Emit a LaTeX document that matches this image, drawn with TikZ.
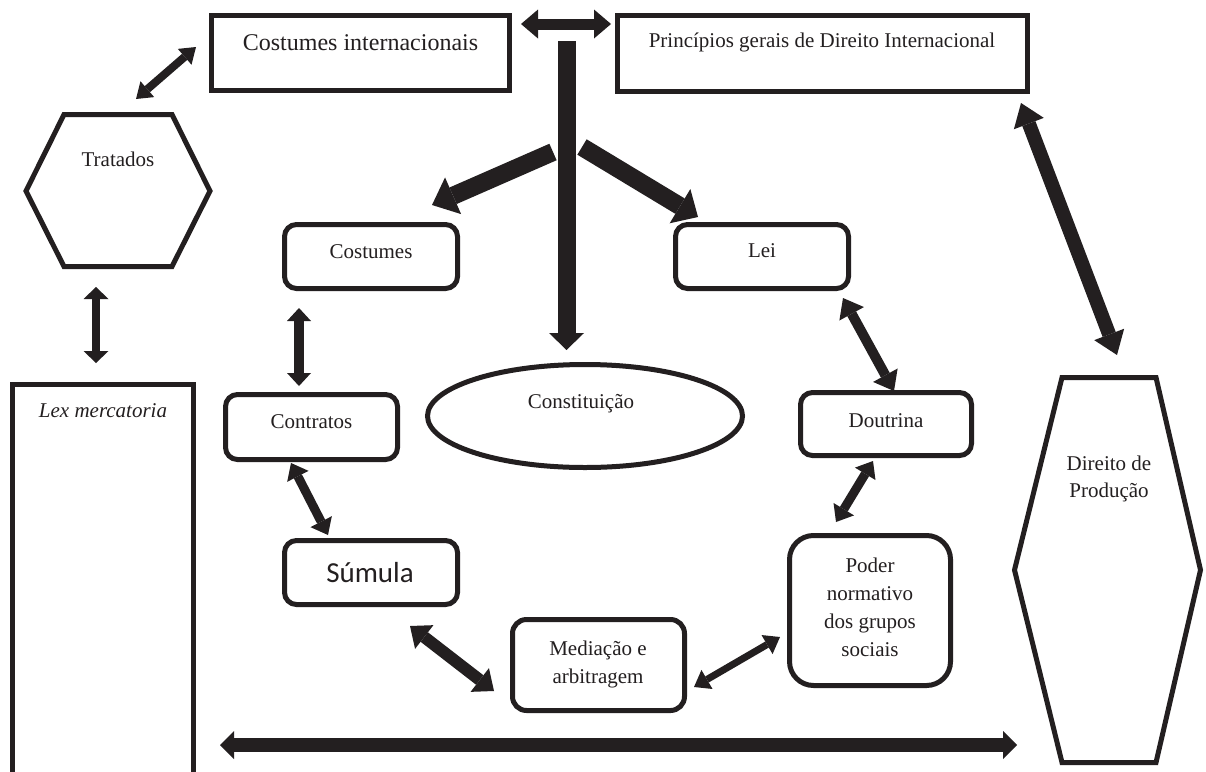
\documentclass[tikz,border=0pt]{standalone}
\usepackage{fontspec}
\setmainfont{Liberation Serif}
\newfontfamily\calfont{Carlito}
\usetikzlibrary{arrows.meta,calc,shapes.geometric}
\definecolor{ink}{RGB}{35,31,32}
\begin{document}
\begin{tikzpicture}[x=1pt,y=-1pt,
  every node/.style={inner sep=0pt, outer sep=0pt},
  sq/.style={draw=ink, line width=5pt, rectangle},
  rbox/.style={draw=ink, line width=5pt, rectangle, rounded corners=#1},
  hexline/.style={draw=ink, line width=5pt, line join=miter},
  lbl/.style={anchor=base, text=ink, font=\fontsize{21}{25}\selectfont},
  arr/.style={draw=ink, fill=ink},
  dbl/.style n args={3}{line width=#1pt, {Triangle[width=#2pt,length=#3pt,line width=0pt]}-{Triangle[width=#2pt,length=#3pt,line width=0pt]}},
  sgl/.style n args={3}{line width=#1pt, -{Triangle[width=#2pt,length=#3pt,line width=0pt]}}
]
\useasboundingbox (0,0) rectangle (1206,771);
\fill[white] (0,0) rectangle (1206,771);
\clip (0,0) rectangle (1206,771);

% top rectangles
\node[sq, minimum width=298pt, minimum height=75pt] (ci) at (360.5,53) {};
\node[lbl, font=\fontsize{24}{28}\selectfont] (cit) at (360.5,50) {Costumes internacionais};
\node[sq, minimum width=410pt, minimum height=76pt] (pg) at (822.5,53.5) {};
\node[lbl] (pgt) at (822,47) {Princípios gerais de Direito Internacional};

% Tratados hexagon
\coordinate (trat) at (118,191);
\draw[hexline] ($(trat)+(-92,0)$) -- ($(trat)+(-54,-76.5)$) -- ($(trat)+(54,-76.5)$)
  -- ($(trat)+(92,0)$) -- ($(trat)+(54,75.5)$) -- ($(trat)+(-54,75.5)$) -- cycle;
\node[lbl] (tratt) at (118,166) {Tratados};

% Lex mercatoria
\node[sq, minimum width=181pt, minimum height=420pt] (lex) at (103,594.5) {};
\node[lbl, font=\fontsize{21}{25}\selectfont\itshape] (lext) at (103,417) {Lex mercatoria};

% Direito de Producao hexagon
\coordinate (dir) at (1107.5,570);
\draw[hexline] ($(dir)+(-93,0)$) -- ($(dir)+(-45.5,-192.5)$) -- ($(dir)+(48.5,-192.5)$)
  -- ($(dir)+(93,0)$) -- ($(dir)+(48.5,192.5)$) -- ($(dir)+(-45.5,192.5)$) -- cycle;
\node[lbl] (dirt1) at (1109,470) {Direito de};
\node[lbl] (dirt2) at (1109,497) {Produção};

% rounded boxes
\node[rbox=12pt, minimum width=173pt, minimum height=64pt] (cos) at (371,256.5) {};
\node[lbl] (cost) at (371,258) {Costumes};
\node[rbox=12pt, minimum width=173pt, minimum height=64pt] (lei) at (762,256.5) {};
\node[lbl] (leit) at (762,257) {Lei};
\node[rbox=12pt, minimum width=172pt, minimum height=65pt] (ctr) at (311.5,427) {};
\node[lbl] (ctrt) at (311.5,428) {Contratos};
\node[rbox=12pt, minimum width=171pt, minimum height=63pt] (dou) at (886,424) {};
\node[lbl] (dout) at (886,427) {Doutrina};
\node[rbox=12pt, minimum width=173pt, minimum height=64pt] (sum) at (371,572.5) {};
\node[anchor=base, text=ink, font=\fontsize{29}{34}\calfont] (sumt) at (370,582) {Súmula};
\node[rbox=14pt, minimum width=172pt, minimum height=91pt] (med) at (598.5,665) {};
\node[lbl] (medt1) at (598,655) {Mediação e};
\node[lbl] (medt2) at (598,683) {arbitragem};
\node[rbox=24pt, minimum width=161pt, minimum height=150pt] (pod) at (870,610.5) {};
\node[lbl] (podt1) at (870,572) {Poder};
\node[lbl] (podt2) at (870,600) {normativo};
\node[lbl] (podt3) at (870,628) {dos grupos};
\node[lbl] (podt4) at (870,656) {sociais};

% Constituicao
\node[draw=ink, line width=5pt, ellipse, minimum width=315pt, minimum height=103pt] (con) at (585,416) {};
\node[lbl] (cont) at (581,408) {Constituição};

% double arrows
\draw[arr, dbl={11}{29}{17}] ([shift={(11.5,8.5)}]ci.north east) -- ([shift={(-6.5,8.5)}]pg.north west);
\draw[arr, dbl={8}{21}{15}] ($(trat)+(18,-92)$) -- ([shift={(-15.5,-6)}]ci.west);
\draw[arr, dbl={8}{25}{12}] ($(trat)+(-22,96)$) -- ([shift={(-7,-21.5)}]lex.north);
\draw[arr, dbl={10}{24}{13}] ([shift={(14.5,19.5)}]cos.south west) -- ([shift={(73.5,-8.5)}]ctr.north west);
\draw[arr, dbl={9}{24}{15}] ([shift={(65.5,3.5)}]ctr.south west) -- ([shift={(43.5,-5.5)}]sum.north west);
\draw[arr, dbl={12}{30}{18}] ([shift={(125.5,21.5)}]sum.south west) -- ([shift={(-18.5,26)}]med.west);
\draw[arr, dbl={7}{22}{15}] ([shift={(9.5,22)}]med.east) -- ([shift={(-9.5,26.5)}]pod.west);
\draw[arr, dbl={9}{24}{15}] ([shift={(72.5,5.5)}]dou.south west) -- ([shift={(46.5,-13.5)}]pod.north west);
\draw[arr, dbl={10}{28}{18}] ([shift={(167.5,9.5)}]lei.south west) -- ([shift={(93.5,-1.5)}]dou.north west);
\draw[arr, dbl={14}{32}{22}] ([shift={(-6.5,11.5)}]pg.south east) -- ($(dir)+(9.5,-215)$);
\draw[arr, dbl={14}{28}{14}] ([shift={(26.5,150.5)}]lex.east) -- ($(dir)+(-90.5,175)$);

% single thick arrows
\coordinate (vtop) at (566.5,41);
\coordinate (ltail) at (553,152);
\coordinate (rtail) at (582,147);
\draw[arr, sgl={18}{35}{17}] (vtop) -- ([shift={(-18.5,-14.5)}]con.north);
\draw[arr, sgl={18}{40}{23}] (ltail) -- ([shift={(-25.5,-19.5)}]cos.north east);
\draw[arr, sgl={18}{40}{21}] (rtail) -- ([shift={(22.5,-7.5)}]lei.north west);
\end{tikzpicture}
\end{document}
